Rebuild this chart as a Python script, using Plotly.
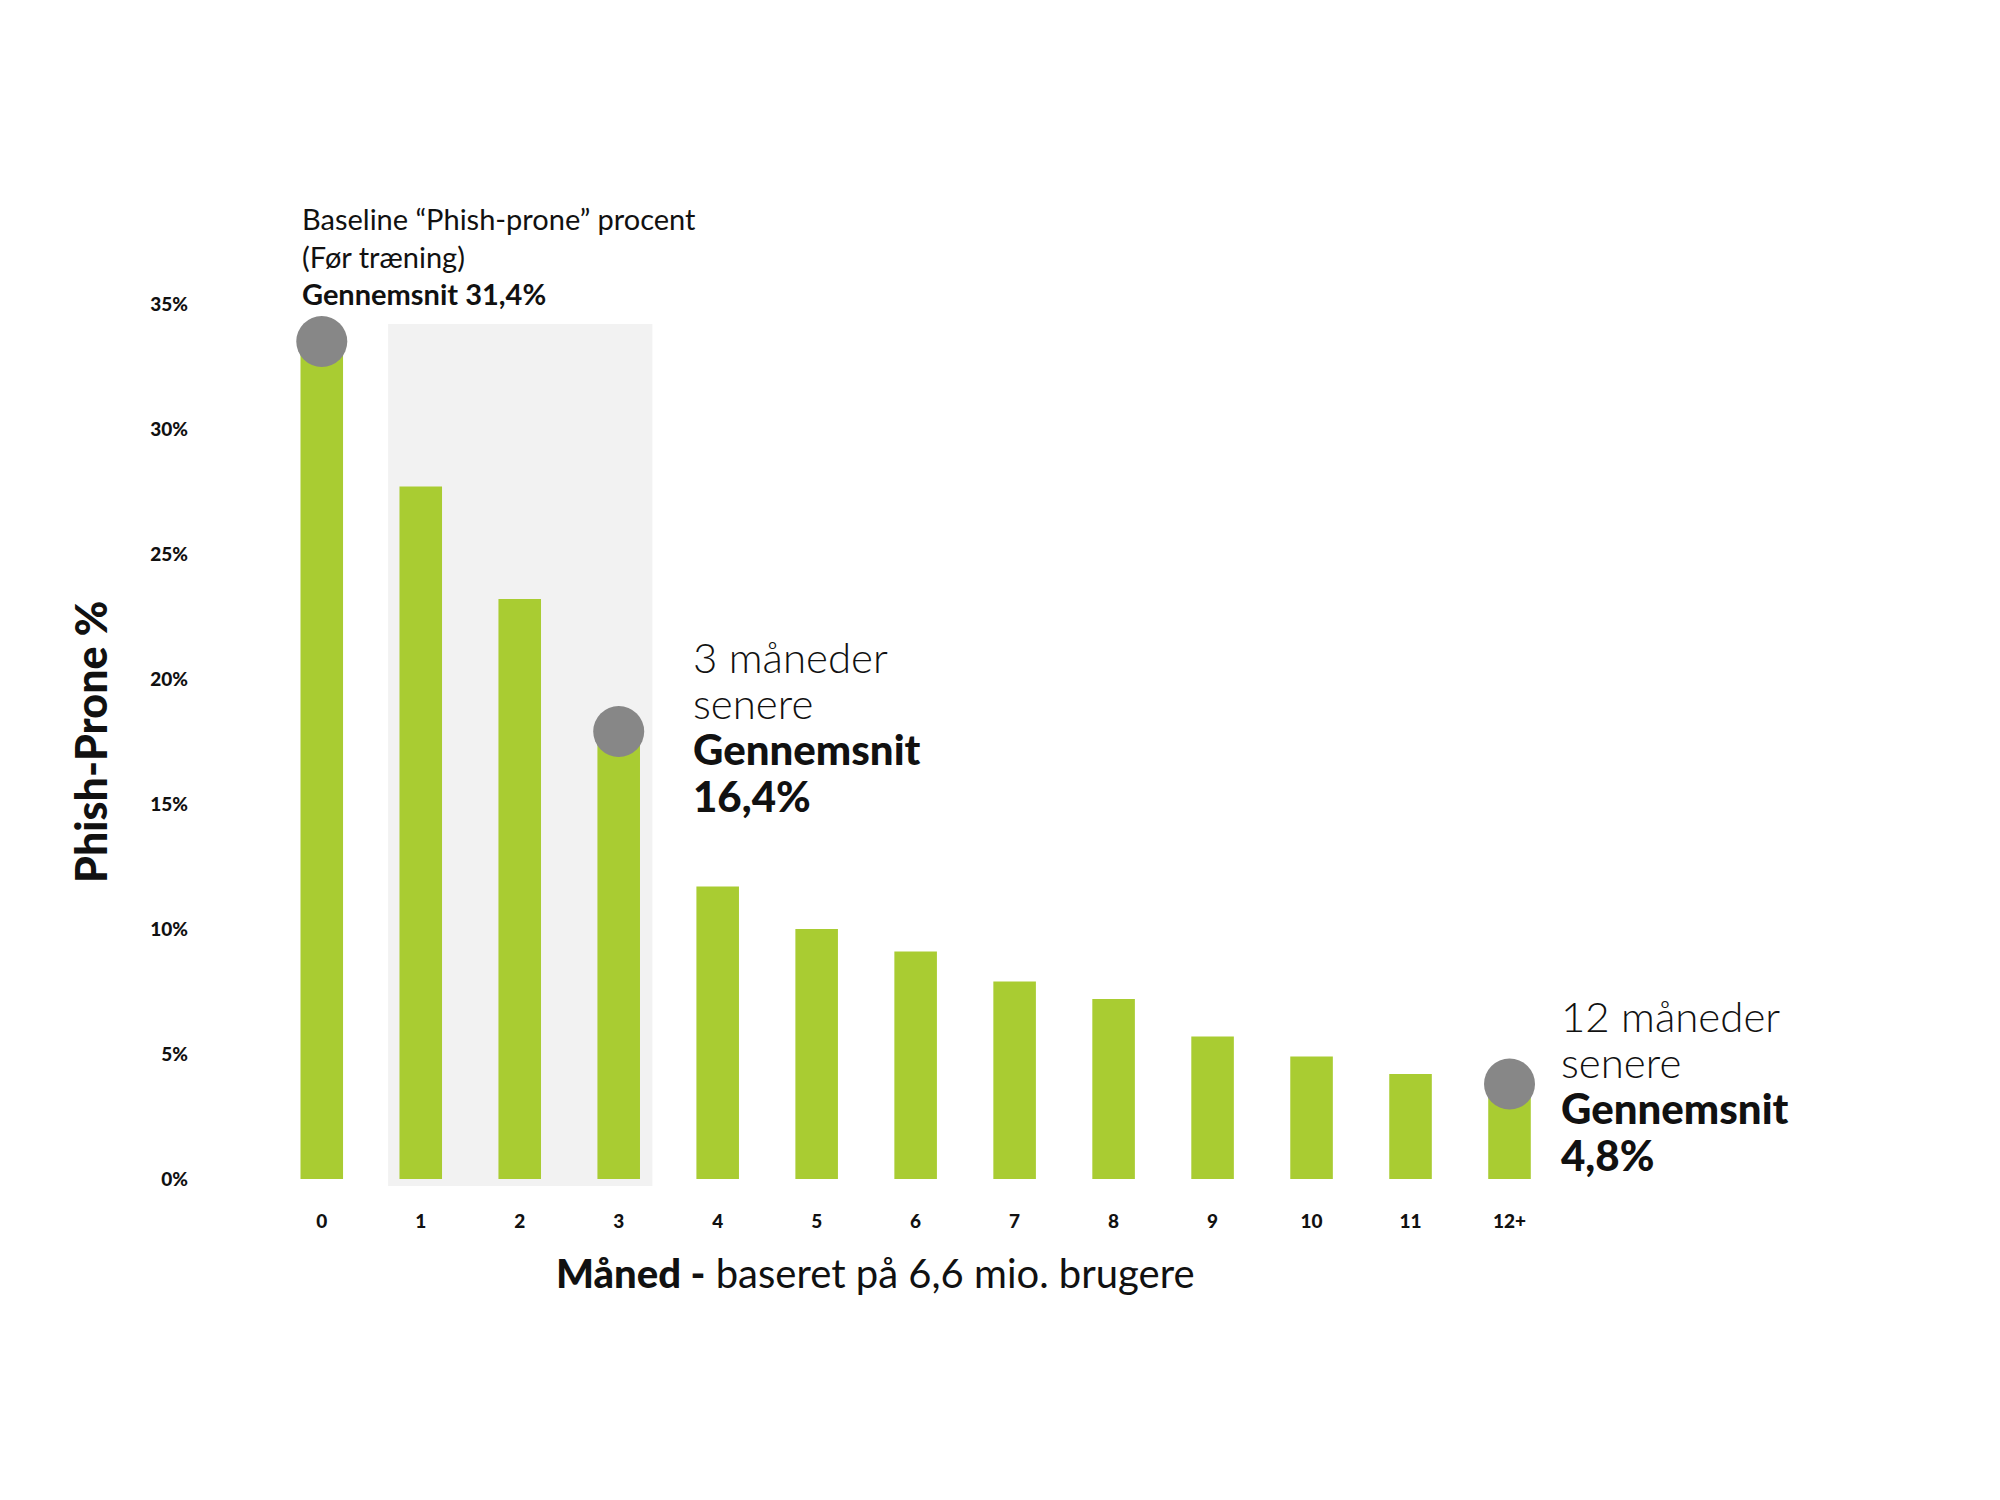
import plotly.graph_objects as go

# month index and labels
months = list(range(13))
month_labels = ["0", "1", "2", "3", "4", "5", "6", "7", "8", "9", "10", "11", "12+"]

# phish-prone % per month
phish_prone = [33.5, 27.7, 23.2, 17.9, 11.7, 10.0, 9.1, 7.9, 7.2, 5.7, 4.9, 4.2, 3.8]

# highlighted months (dots)
highlight_idx = [0, 3, 12]

y_ticks = [0, 5, 10, 15, 20, 25, 30, 35]
y_ticktext = [f"{v}%" for v in y_ticks]

GREEN = "#a9cc32"
GREY = "#878787"
INK = "#111111"
FONT = "Lato"

# pixel -> data helpers for placing text (x=0 at 314px, 99px/month; y=0 at 1171px, 25px/%)
def px_x(p):
    return (p - 314) / 99

def px_y(p):
    return (1171 - p) / 25

# pixel -> paper helpers (plot area 195..1551 x 246..1188)
def paper_x(p):
    return (p - 195) / 1356

def paper_y(p):
    return (1188 - p) / 942

fig = go.Figure()

# shaded band behind months 1-3
fig.add_shape(type="rect", xref="x", yref="y", x0=0.67, x1=3.34, y0=-0.28, y1=34.2,
              fillcolor="#f2f2f2", line=dict(width=0), layer="below")

fig.add_trace(go.Bar(x=months, y=phish_prone, width=0.43, marker=dict(color=GREEN, line=dict(width=0)),
                     hoverinfo="skip", showlegend=False))

fig.add_trace(go.Scatter(x=[months[i] for i in highlight_idx],
                         y=[phish_prone[i] for i in highlight_idx],
                         mode="markers", marker=dict(size=51, color=GREY, line=dict(width=0)),
                         cliponaxis=False, hoverinfo="skip", showlegend=False))

# baseline note
fig.add_annotation(x=px_x(292), y=px_y(248), xref="x", yref="y", xanchor="left", yanchor="middle",
                   showarrow=False, align="left",
                   text="Baseline “Phish-prone” procent<br>(Før træning)<br><b>Gennemsnit 31,4%</b>",
                   font=dict(family=FONT, size=29, color=INK))

# big callouts, one annotation per line (tight leading as in the original)
def callout(x_px, ys_px, first, value):
    lines = [(first, 300), ("senere", 300), ("Gennemsnit", 900), (value, 900)]
    for (txt, w), yp in zip(lines, ys_px):
        fig.add_annotation(x=px_x(x_px), y=px_y(yp), xref="x", yref="y", xanchor="left",
                           yanchor="middle", showarrow=False, text=txt,
                           font=dict(family=FONT, size=42, weight=w, color=INK))

callout(683, [649, 695, 741, 788], "3 måneder", "16,4%")
callout(1551, [1008, 1054, 1100, 1147], "12 måneder", "4,8%")

# axis titles
fig.add_annotation(x=paper_x(867), y=paper_y(1265), xref="paper", yref="paper",
                   xanchor="center", yanchor="middle", showarrow=False,
                   text="<span style='font-weight:900'>Måned -</span> baseret på 6,6 mio. brugere",
                   font=dict(family=FONT, size=40, color=INK))
fig.add_annotation(x=paper_x(82), y=paper_y(734), xref="paper", yref="paper",
                   xanchor="center", yanchor="middle", showarrow=False, textangle=-90,
                   text="Phish-Prone %",
                   font=dict(family=FONT, size=43, weight=900, color=INK))

fig.update_layout(
    width=2000, height=1500,
    margin=dict(l=195, r=449, t=246, b=312),
    plot_bgcolor="white", paper_bgcolor="white",
    font=dict(family=FONT, color=INK),
)

fig.update_xaxes(range=[-1.2, 12.5], tickvals=months, ticktext=month_labels,
                 tickfont=dict(family=FONT, size=19, color=INK, weight=900),
                 showgrid=False, zeroline=False, showline=False, ticks="", ticklabelstandoff=12,
                 automargin=False)

fig.update_yaxes(range=[-0.68, 37], tickvals=y_ticks, ticktext=y_ticktext,
                 tickfont=dict(family=FONT, size=19, color=INK, weight=900),
                 showgrid=False, zeroline=False, showline=False, ticks="", ticklabelstandoff=14,
                 automargin=False)

fig.write_html("out.html")
